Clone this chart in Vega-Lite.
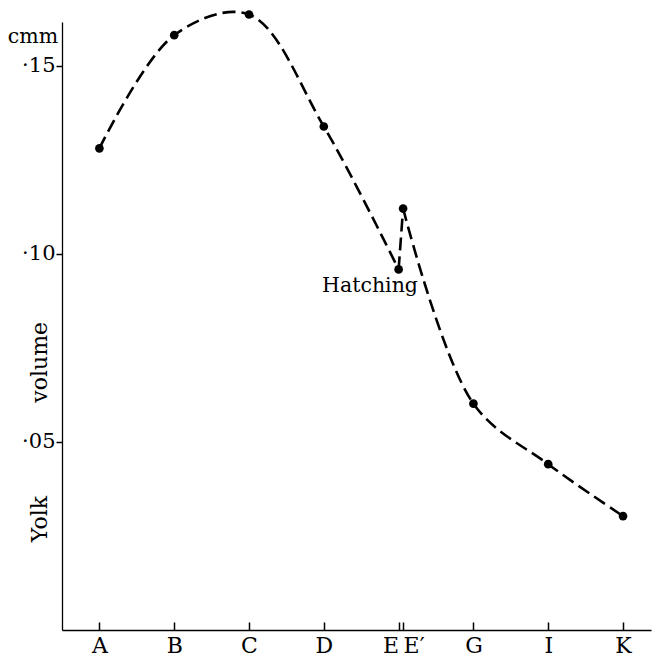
{
  "$schema": "https://vega.github.io/schema/vega-lite/v6.json",
  "width": 589,
  "height": 608,
  "autosize": {"type": "none"},
  "padding": {"left": 62, "top": 22, "right": 1, "bottom": 26},
  "background": "white",
  "config": {
    "view": {"stroke": null},
    "font": "DejaVu Serif",
    "axis": {"domainColor": "black", "tickColor": "black", "labelColor": "black", "grid": false, "domainWidth": 1.3, "tickWidth": 1.5}
  },
  "datasets": {
    "pts": [
      {"stage": "A", "x": 1, "volume": 0.1281},
      {"stage": "B", "x": 2, "volume": 0.1582},
      {"stage": "C", "x": 3, "volume": 0.1637},
      {"stage": "D", "x": 4, "volume": 0.1339},
      {"stage": "E", "x": 5, "volume": 0.0959},
      {"stage": "E′", "x": 5.06, "volume": 0.1121},
      {"stage": "G", "x": 6, "volume": 0.0602},
      {"stage": "I", "x": 7, "volume": 0.0441},
      {"stage": "K", "x": 8, "volume": 0.0303}
    ],
    "line": [
      {"seg": 1, "x": 1, "volume": 0.1281},
      {"seg": 1, "x": 2, "volume": 0.1582},
      {"seg": 1, "x": 3, "volume": 0.1637},
      {"seg": 1, "x": 4, "volume": 0.1339},
      {"seg": 1, "x": 5, "volume": 0.0959},
      {"seg": 2, "x": 5, "volume": 0.0959},
      {"seg": 2, "x": 5.06, "volume": 0.1121},
      {"seg": 3, "x": 5.06, "volume": 0.1121},
      {"seg": 3, "x": 6, "volume": 0.0602},
      {"seg": 3, "x": 7, "volume": 0.0441},
      {"seg": 3, "x": 8, "volume": 0.0303}
    ],
    "labels": [
      {"label": "Hatching", "x": 4.618, "volume": 0.0914},
      {"label": "cmm", "x": 0.112, "volume": 0.1578}
    ],
    "vlabels": [
      {"label": "Yolk", "x": 0.206, "volume": 0.0295},
      {"label": "volume", "x": 0.206, "volume": 0.0712}
    ]
  },
  "layer": [
    {
      "data": {"name": "line"},
      "mark": {"type": "line", "interpolate": "catmull-rom", "color": "black", "strokeWidth": 2.6, "strokeDash": [13, 6], "clip": false},
      "encoding": {
        "x": {
          "field": "x", "type": "quantitative",
          "scale": {"domain": [0.5, 8.374], "nice": false, "zero": false},
          "axis": {
            "title": null,
            "values": [1, 2, 3, 4, 5, 5.06, 6, 7, 8],
            "labelExpr": "datum.value == 1 ? 'A' : datum.value == 2 ? 'B' : datum.value == 3 ? 'C' : datum.value == 4 ? 'D' : datum.value == 5 ? 'E' : datum.value == 6 ? 'G' : datum.value == 7 ? 'I' : datum.value == 8 ? 'K' : 'E′'",
            "labelAlign": {"condition": [{"test": "datum.value == 5", "value": "right"}, {"test": "datum.value > 5.01 && datum.value < 5.1", "value": "left"}], "value": "center"},
            "labelOverlap": false,
            "labelFontSize": 22,
            "labelPadding": 13,
            "tickSize": -8,
            "labelBound": false,
            "labelFlush": false
          }
        },
        "y": {
          "field": "volume", "type": "quantitative",
          "scale": {"domain": [0, 0.1617], "nice": false},
          "axis": {
            "title": null,
            "values": [0.05, 0.1, 0.15],
            "labelExpr": "'·' + format(datum.value * 100, '02d')",
            "labelFontSize": 21,
            "tickSize": 6,
            "labelPadding": 1
          }
        },
        "detail": {"field": "seg", "type": "nominal"}
      }
    },
    {
      "data": {"name": "pts"},
      "mark": {"type": "point", "filled": true, "color": "black", "size": 75, "opacity": 1, "clip": false},
      "encoding": {
        "x": {"field": "x", "type": "quantitative"},
        "y": {"field": "volume", "type": "quantitative"}
      }
    },
    {
      "data": {"name": "labels"},
      "mark": {"type": "text", "font": "DejaVu Serif", "fontSize": 20.5, "color": "black", "align": "center", "baseline": "middle", "clip": false},
      "encoding": {
        "x": {"field": "x", "type": "quantitative"},
        "y": {"field": "volume", "type": "quantitative"},
        "text": {"field": "label"}
      }
    },
    {
      "data": {"name": "vlabels"},
      "mark": {"type": "text", "font": "DejaVu Serif", "fontSize": 22, "color": "black", "align": "center", "baseline": "middle", "angle": 270, "clip": false},
      "encoding": {
        "x": {"field": "x", "type": "quantitative"},
        "y": {"field": "volume", "type": "quantitative"},
        "text": {"field": "label"}
      }
    }
  ]
}
